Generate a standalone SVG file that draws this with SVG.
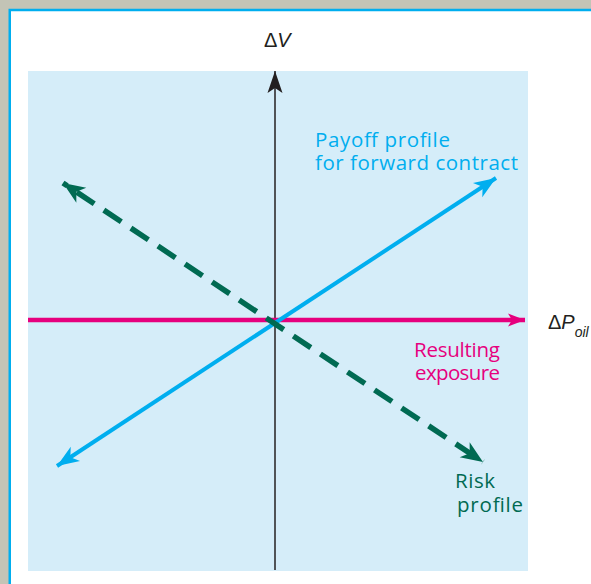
<svg xmlns="http://www.w3.org/2000/svg" width="591" height="584" viewBox="0 0 591 584">
  <style>
    .lbl { font-family: "Open Sans", "Noto Sans", "Liberation Sans", sans-serif; font-size: 20.5px; }
    .axis { font-family: "Liberation Sans", "Noto Sans", sans-serif; font-size: 20px; fill: #231f20; }
    .cyan { fill: #00aeef; }
    .mag { fill: #e6007e; }
    .grn { fill: #006a52; }
  </style>
  <defs>
    <marker id="ahBlack" markerUnits="userSpaceOnUse" viewBox="-24 -9 26 18" refX="0" refY="0" markerWidth="26" markerHeight="18" orient="auto-start-reverse">
      <path d="M0,0 L-22,-7.5 L-17,0 L-22,7.5 Z" fill="#231f20"/>
    </marker>
    <marker id="ahMag" markerUnits="userSpaceOnUse" viewBox="-20 -8 22 16" refX="0" refY="0" markerWidth="22" markerHeight="16" orient="auto-start-reverse">
      <path d="M0,0 L-17,-6.5 L-13,0 L-17,6.5 Z" fill="#e6007e"/>
    </marker>
    <marker id="ahCyan" markerUnits="userSpaceOnUse" viewBox="-24 -10 26 20" refX="0" refY="0" markerWidth="26" markerHeight="20" orient="auto-start-reverse">
      <path d="M0,0 L-22,-8.5 L-16,0 L-22,8.5 Z" fill="#00aeef"/>
    </marker>
    <marker id="ahGrn" markerUnits="userSpaceOnUse" viewBox="-24 -10 26 20" refX="0" refY="0" markerWidth="26" markerHeight="20" orient="auto-start-reverse">
      <path d="M0,0 L-22,-9 L-16,0 L-22,9 Z" fill="#006a52"/>
    </marker>
  </defs>

  <!-- frame -->
  <rect x="0" y="0" width="591" height="584" fill="#c3c4b6"/>
  <rect x="9.75" y="10" width="600" height="600" fill="#ffffff" stroke="#00aeef" stroke-width="2.5"/>
  <rect x="28" y="71" width="500" height="500" fill="#d5edf9"/>

  <!-- connectors / lines -->
  <g id="connectors">
    <line x1="275" y1="570" x2="275" y2="71" stroke="#231f20" stroke-width="1.5" marker-end="url(#ahBlack)"/>
    <line x1="28" y1="320" x2="525" y2="320" stroke="#e6007e" stroke-width="4.5" marker-end="url(#ahMag)"/>
    <line x1="57" y1="466" x2="496" y2="178" stroke="#00aeef" stroke-width="4" marker-start="url(#ahCyan)" marker-end="url(#ahCyan)"/>
    <line x1="63" y1="183" x2="483" y2="462" stroke="#006a52" stroke-width="5.5" stroke-dasharray="21 11.5" stroke-dashoffset="16" marker-start="url(#ahGrn)" marker-end="url(#ahGrn)"/>
  </g>

  <!-- labels -->
  <g id="label-dV">
    <text class="axis" x="264" y="47">Δ<tspan font-style="italic">V</tspan></text>
  </g>
  <g id="label-dPoil">
    <text class="axis" x="548" y="329">Δ<tspan font-style="italic">P</tspan><tspan font-style="italic" font-size="14" dy="8">oil</tspan></text>
  </g>
  <g id="label-payoff">
    <text class="lbl cyan" x="315" y="147" textLength="135" lengthAdjust="spacing">Payoff profile</text>
    <text class="lbl cyan" x="315" y="170" textLength="203" lengthAdjust="spacing">for forward contract</text>
  </g>
  <g id="label-exposure">
    <text class="lbl mag" x="414" y="357" textLength="86" lengthAdjust="spacing">Resulting</text>
    <text class="lbl mag" x="415" y="380" textLength="85" lengthAdjust="spacing">exposure</text>
  </g>
  <g id="label-risk">
    <text class="lbl grn" x="455" y="488" textLength="40" lengthAdjust="spacing">Risk</text>
    <text class="lbl grn" x="457" y="512" textLength="66" lengthAdjust="spacing">profile</text>
  </g>
</svg>
